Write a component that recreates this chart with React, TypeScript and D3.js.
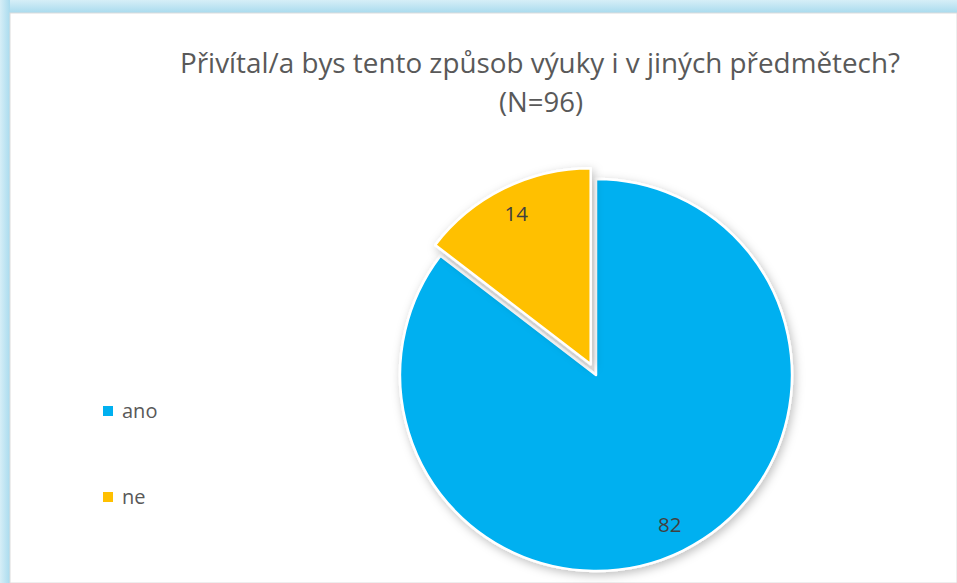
import React from "react";
import * as d3 from "d3";

const categories = ["ano", "ne"];
const values = [82, 14];
const colors = ["#00B0F0", "#FFC000"];
const titleLines = ["Přivítal/a bys tento způsob výuky i v jiných předmětech?", "(N=96)"];

export default function App() {
  const W = 957, H = 583;
  const cx = 596, cy = 375, r = 196;
  const pie = d3.pie<number>().sort(null).value((d) => d);
  const arcs = pie(values);
  const arc = d3.arc<d3.PieArcDatum<number>>().innerRadius(0).outerRadius(r);
  const explode = [0, 12];
  const labelPos: [number, number][] = arcs.map((a, i) => {
    const mid = (a.startAngle + a.endAngle) / 2;
    const rr = i === 0 ? r * 0.85 : r * 0.86;
    const off = explode[i];
    return [Math.sin(mid) * (rr + off), -Math.cos(mid) * (rr + off)];
  });
  const font = "'Open Sans', 'Noto Sans', sans-serif";
  return (
    <svg width={W} height={H} style={{ position: "absolute", left: 0, top: 0 }}>
      <defs>
        <linearGradient id="glowTop" x1="0" y1="0" x2="0" y2="1">
          <stop offset="0" stopColor="#d6eef7" />
          <stop offset="1" stopColor="#a9dbee" />
        </linearGradient>
        <linearGradient id="glowLeft" x1="0" y1="0" x2="1" y2="0">
          <stop offset="0" stopColor="#d6eef7" />
          <stop offset="1" stopColor="#a9dbee" />
        </linearGradient>
        <filter id="shadow" x="-20%" y="-20%" width="140%" height="140%">
          <feDropShadow dx="2" dy="3" stdDeviation="5" floodColor="#000" floodOpacity="0.25" />
        </filter>
      </defs>
      <rect x={0} y={0} width={W} height={H} fill="#cfe9f4" />
      <rect x={0} y={0} width={W} height={13} fill="url(#glowTop)" />
      <rect x={0} y={0} width={10} height={H} fill="url(#glowLeft)" />
      <rect x={10} y={13} width={W - 10} height={H - 13} fill="#ffffff" stroke="#dcdcdc" strokeWidth={1} />
      <g fontFamily={font} fill="#595959" textAnchor="middle">
        <text x={540} y={73} fontSize={27.5} textLength={720} lengthAdjust="spacingAndGlyphs">{titleLines[0]}</text>
        <text x={541} y={112} fontSize={27.5}>{titleLines[1]}</text>
      </g>
      <g transform={`translate(${cx},${cy})`}>
        {arcs.map((a, i) => {
          const mid = (a.startAngle + a.endAngle) / 2;
          const off = explode[i];
          return (
            <path
              key={categories[i]}
              d={arc(a) || ""}
              transform={`translate(${Math.sin(mid) * off},${-Math.cos(mid) * off})`}
              fill={colors[i]}
              stroke="#ffffff"
              strokeWidth={2.5}
              strokeLinejoin="round"
              filter="url(#shadow)"
            />
          );
        })}
        {arcs.map((a, i) => (
          <text
            key={"l" + i}
            x={labelPos[i][0]}
            y={labelPos[i][1]}
            textAnchor="middle"
            dominantBaseline="central"
            fontFamily={font}
            fontSize={20.5}
            fill="#404040"
          >
            {values[i]}
          </text>
        ))}
      </g>
      <g fontFamily={font} fontSize={20} fill="#595959">
        {categories.map((c, i) => (
          <g key={c} transform={`translate(103,${406 + i * 86})`}>
            <rect x={0} y={0} width={10} height={10} fill={colors[i]} />
            <text x={19} y={4} dominantBaseline="central">{c}</text>
          </g>
        ))}
      </g>
    </svg>
  );
}
